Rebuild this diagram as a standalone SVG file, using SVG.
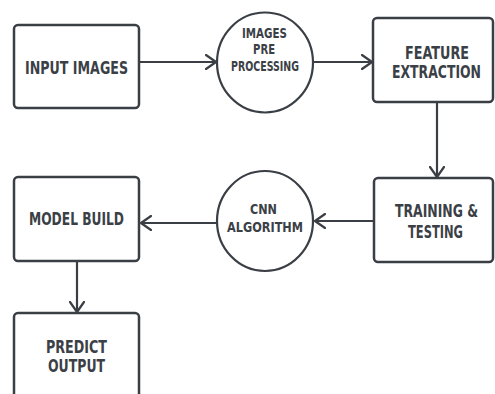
<svg xmlns="http://www.w3.org/2000/svg" width="495" height="394" viewBox="0 0 495 394">
  <style>
    .box { fill: #ffffff; stroke: #3a3f45; stroke-width: 2.5; }
    .circ { fill: #ffffff; stroke: #3a3f45; stroke-width: 2.2; }
    .lbl { font-family: "DejaVu Sans Condensed", "DejaVu Sans", sans-serif; font-weight: bold; fill: #3b4046; text-anchor: middle; }
    .big { font-size: 15px; }
    .small { font-size: 12px; }
    .edge { fill: none; stroke: #3a3f45; stroke-width: 2.2; marker-end: url(#chev); }
  </style>
  <defs>
    <marker id="chev" viewBox="0 0 12 16" refX="11" refY="8" markerWidth="12" markerHeight="16" markerUnits="userSpaceOnUse" orient="auto">
      <path d="M1,1 L11,8 L1,15" fill="none" stroke="#3a3f45" stroke-width="2.2" stroke-linecap="round" stroke-linejoin="round"/>
    </marker>
  </defs>
  <rect width="495" height="394" fill="#ffffff"/>

  <g id="connectors">
    <path class="edge" d="M139,62 L216,62"/>
    <path class="edge" d="M313,62 L372,62"/>
    <path class="edge" d="M437,102 L437,177"/>
    <path class="edge" d="M374,221 L315,221"/>
    <path class="edge" d="M217,223 L141,223"/>
    <path class="edge" d="M77,261 L77,312"/>
  </g>

  <!-- labels are set in a condensed face and stretched 1.2x vertically -->
  <g id="input-images">
    <rect class="box" x="14" y="25" width="125" height="83" rx="4"/>
    <text class="lbl big" transform="translate(76.5,74) scale(1,1.2)" textLength="103" lengthAdjust="spacingAndGlyphs">INPUT IMAGES</text>
  </g>

  <g id="images-pre-processing">
    <ellipse class="circ" cx="265" cy="62.5" rx="48" ry="50"/>
    <text class="lbl small" transform="translate(264.5,38) scale(1,1.2)" textLength="45" lengthAdjust="spacingAndGlyphs">IMAGES</text>
    <text class="lbl small" transform="translate(264,54) scale(1,1.2)" textLength="22" lengthAdjust="spacingAndGlyphs">PRE</text>
    <text class="lbl small" transform="translate(265,71) scale(1,1.2)" textLength="68" lengthAdjust="spacingAndGlyphs">PROCESSING</text>
  </g>

  <g id="feature-extraction">
    <rect class="box" x="373" y="18" width="120" height="84" rx="4"/>
    <text class="lbl big" transform="translate(437,59) scale(1,1.2)" textLength="64" lengthAdjust="spacingAndGlyphs">FEATURE</text>
    <text class="lbl big" transform="translate(436.5,78) scale(1,1.2)" textLength="89" lengthAdjust="spacingAndGlyphs">EXTRACTION</text>
  </g>

  <g id="training-testing">
    <rect class="box" x="374" y="178" width="119" height="84" rx="4"/>
    <text class="lbl big" transform="translate(436.5,217) scale(1,1.2)" textLength="83" lengthAdjust="spacingAndGlyphs">TRAINING &amp;</text>
    <text class="lbl big" transform="translate(435.5,238) scale(1,1.2)" textLength="55" lengthAdjust="spacingAndGlyphs">TESTING</text>
  </g>

  <g id="cnn-algorithm">
    <ellipse class="circ" cx="265" cy="221" rx="48" ry="50"/>
    <text class="lbl small" transform="translate(263.5,214) scale(1,1.2)" textLength="27" lengthAdjust="spacingAndGlyphs">CNN</text>
    <text class="lbl small" transform="translate(265,232) scale(1,1.2)" textLength="76" lengthAdjust="spacingAndGlyphs">ALGORITHM</text>
  </g>

  <g id="model-build">
    <rect class="box" x="14" y="177" width="125" height="84" rx="4"/>
    <text class="lbl big" transform="translate(76.5,225) scale(1,1.2)" textLength="95" lengthAdjust="spacingAndGlyphs">MODEL BUILD</text>
  </g>

  <g id="predict-output">
    <rect class="box" x="14" y="313" width="125" height="90" rx="4"/>
    <text class="lbl big" transform="translate(76.5,353) scale(1,1.2)" textLength="61" lengthAdjust="spacingAndGlyphs">PREDICT</text>
    <text class="lbl big" transform="translate(76.5,372) scale(1,1.2)" textLength="57" lengthAdjust="spacingAndGlyphs">OUTPUT</text>
  </g>
</svg>
